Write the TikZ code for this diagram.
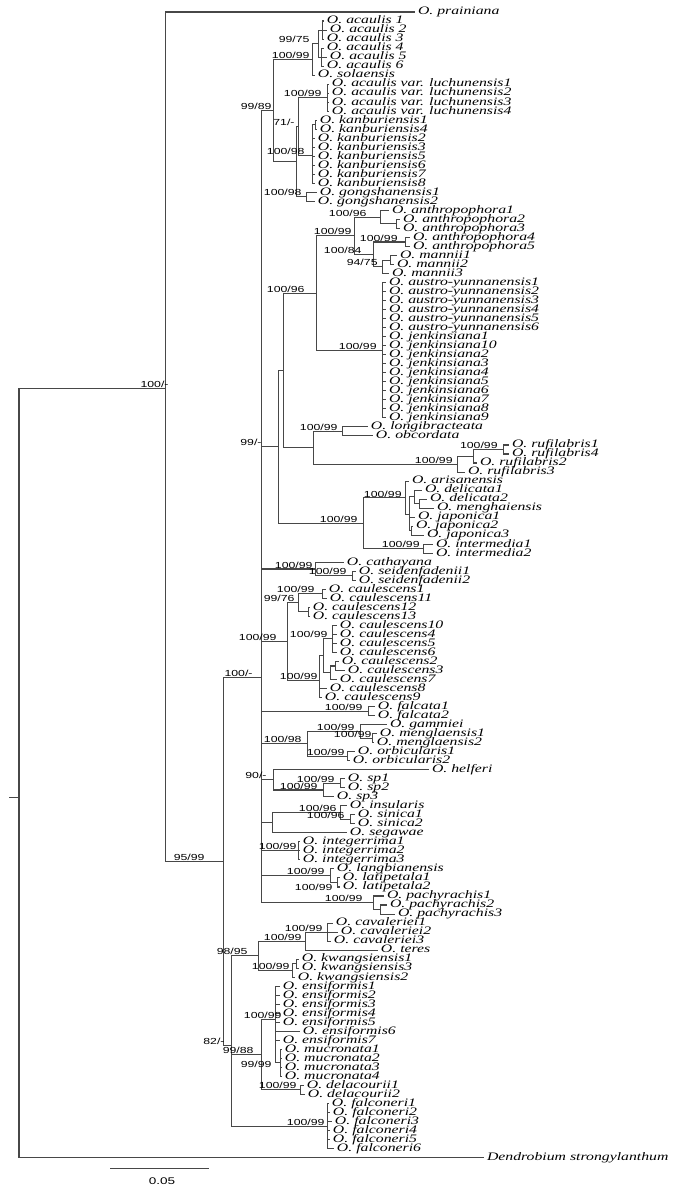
\documentclass[tikz,border=0pt]{standalone}
\usepackage{fontspec}
\setmainfont{Liberation Serif}
\newfontfamily\lsans{Liberation Sans}

\begin{document}
\begin{tikzpicture}[x=0.02cm,y=-0.1804cm,
  twig/.style={draw=black!72,line width=0.6pt},
  taxon/.style={anchor=west,inner xsep=1pt,inner ysep=0pt,text height=4.5pt,text depth=1.3pt,xscale=1.38,font=\fontsize{6.5}{7}\selectfont\itshape},
  bs/.style={anchor=south east,inner sep=0pt,yshift=0.3pt,xscale=1.4,font=\lsans\fontsize{5}{6}\selectfont}]
  \useasboundingbox (0,-0.33) rectangle (675,131.15);
  \coordinate (root) at (19,88.045); \coordinate (stub) at (9,88.045);
  \coordinate (nA) at (165,42.69); \coordinate (n95) at (223,95.19);
  \coordinate (n100b) at (261,74.80); \coordinate (n82) at (231,115.57);
  \coordinate (n9989) at (273,11.93); \coordinate (n100a) at (312,6.25);
  \coordinate (n9975) at (318,4.5); \coordinate (nac13) at (322,3); \coordinate (nac46) at (321,6);
  \coordinate (nY) at (296,17.61); \coordinate (n71) at (298,13.71);
  \coordinate (nluch) at (327,10.5); \coordinate (nkanb) at (312,16.93);
  \coordinate (nk14) at (315,13.5); \coordinate (ngong) at (306,21.5);
  \coordinate (n99m) at (278,49.21); \coordinate (nB) at (283,40.74);
  \coordinate (n10096) at (316,32.16); \coordinate (nanth) at (354,25.81);
  \coordinate (n10096b) at (380,23.75); \coordinate (nanth23) at (396,24.5);
  \coordinate (n10084) at (373,27.875); \coordinate (nanth45) at (405,26.5);
  \coordinate (n9475) at (382,29.25); \coordinate (nm12) at (390,28.5);
  \coordinate (naj) at (382,38.5); \coordinate (nlr) at (313,49.31);
  \coordinate (nlo) at (342,47.5); \coordinate (nruf) at (457,51.125);
  \coordinate (nruf142) at (473,50.25); \coordinate (nruf14) at (503,49.5);
  \coordinate (narisc) at (363,57.69); \coordinate (nar) at (405,54.875);
  \coordinate (nx) at (409,56.75); \coordinate (ndel) at (414,54.75);
  \coordinate (ndm) at (419,55.5); \coordinate (njap23) at (411,58.5);
  \coordinate (ninter) at (423,60.5);
  \coordinate (ncath) at (315,62.75); \coordinate (nseid) at (352,63.5);
  \coordinate (ncaul) at (287,70.81); \coordinate (n9976) at (298,66.5);
  \coordinate (nc111) at (322,65.5); \coordinate (nc1213) at (308,67.5);
  \coordinate (ncaulB) at (319,75.125); \coordinate (nc1) at (323,72.375);
  \coordinate (nc106) at (332,70.5); \coordinate (nc237) at (330,74.25);
  \coordinate (nc23) at (335,73.5);
  \coordinate (nfalc) at (368,78.5);
  \coordinate (n10098) at (307,82.125); \coordinate (ngm) at (360,80.75);
  \coordinate (nmengl) at (372,81.5); \coordinate (norb) at (347,83.5);
  \coordinate (n90) at (273,86.125); \coordinate (nsp) at (323,87.25);
  \coordinate (nsp12) at (340,86.5);
  \coordinate (ninsu) at (272,90.875); \coordinate (n10096c) at (340,89.75);
  \coordinate (nsin) at (350,90.5);
  \coordinate (ninteg) at (298,94);
  \coordinate (nlang) at (330,96.75); \coordinate (nlat) at (337,97.5);
  \coordinate (npachy) at (373,99.75); \coordinate (npach23) at (380,100.5);
  \coordinate (n9895) at (258,105.625); \coordinate (ncav) at (305,104);
  \coordinate (ncav123) at (327,103); \coordinate (nkwang) at (292,107.25);
  \coordinate (nk13) at (296,106.5);
  \coordinate (n9988) at (261,116.59); \coordinate (nX) at (275,112.69);
  \coordinate (nmuc) at (280,117.5); \coordinate (ndelac) at (300,120.5);
  \coordinate (nfalco) at (327,124.5);

  \foreach \x/\t [count=\i] in {415/O. prainiana,
    324/O. acaulis 1,327/O. acaulis 2,324/O. acaulis 3,324/O. acaulis 4,327/O. acaulis 5,324/O. acaulis 6,315/O. solaensis,
    329/O. acaulis var. luchunensis1,329/O. acaulis var. luchunensis2,329/O. acaulis var. luchunensis3,329/O. acaulis var. luchunensis4,
    317/O. kanburiensis1,317/O. kanburiensis4,315/O. kanburiensis2,315/O. kanburiensis3,315/O. kanburiensis5,315/O. kanburiensis6,315/O. kanburiensis7,315/O. kanburiensis8,
    317/O. gongshanensis1,315/O. gongshanensis2,
    389/O. anthropophora1,400/O. anthropophora2,400/O. anthropophora3,410/O. anthropophora4,410/O. anthropophora5,
    397/O. mannii1,394/O. mannii2,389/O. mannii3,
    386/O. austro-yunnanensis1,386/O. austro-yunnanensis2,386/O. austro-yunnanensis3,386/O. austro-yunnanensis4,386/O. austro-yunnanensis5,386/O. austro-yunnanensis6,
    386/O. jenkinsiana1,386/O. jenkinsiana10,386/O. jenkinsiana2,386/O. jenkinsiana3,386/O. jenkinsiana4,386/O. jenkinsiana5,386/O. jenkinsiana6,386/O. jenkinsiana7,386/O. jenkinsiana8,386/O. jenkinsiana9,
    368/O. longibracteata,373/O. obcordata,
    509/O. rufilabris1,509/O. rufilabris4,477/O. rufilabris2,465/O. rufilabris3,
    409/O. arisanensis,422/O. delicata1,427/O. delicata2,434/O. menghaiensis,415/O. japonica1,413/O. japonica2,424/O. japonica3,
    433/O. intermedia1,433/O. intermedia2,
    344/O. cathayana,356/O. seidenfadenii1,356/O. seidenfadenii2,
    326/O. caulescens1,327/O. caulescens11,310/O. caulescens12,310/O. caulescens13,
    337/O. caulescens10,337/O. caulescens4,337/O. caulescens5,337/O. caulescens6,
    339/O. caulescens2,345/O. caulescens3,337/O. caulescens7,327/O. caulescens8,322/O. caulescens9,
    375/O. falcata1,375/O. falcata2,
    387/O. gammiei,377/O. menglaensis1,374/O. menglaensis2,355/O. orbicularis1,350/O. orbicularis2,
    429/O. helferi,345/O. sp1,345/O. sp2,334/O. sp3,
    347/O. insularis,355/O. sinica1,355/O. sinica2,347/O. segawae,
    300/O. integerrima1,300/O. integerrima2,300/O. integerrima3,
    334/O. langbianensis,340/O. latipetala1,340/O. latipetala2,
    384/O. pachyrachis1,387/O. pachyrachis2,395/O. pachyrachis3,
    333/O. cavaleriei1,338/O. cavaleriei2,331/O. cavaleriei3,378/O. teres,
    299/O. kwangsiensis1,299/O. kwangsiensis3,295/O. kwangsiensis2,
    280/O. ensiformis1,280/O. ensiformis2,280/O. ensiformis3,280/O. ensiformis4,280/O. ensiformis5,300/O. ensiformis6,280/O. ensiformis7,
    282/O. mucronata1,282/O. mucronata2,282/O. mucronata3,282/O. mucronata4,
    304/O. delacourii1,305/O. delacourii2,
    329/O. falconeri1,330/O. falconeri2,332/O. falconeri3,330/O. falconeri4,330/O. falconeri5,334/O. falconeri6,
    484/Dendrobium strongylanthum}
    \node[taxon] (l\i) at (\x,\i) {\t};

  \draw[twig] (stub) -- (root);
  \draw[twig] (root) |- (nA); \draw[twig] (root) |- (l128.west);
  \draw[twig] (nA) |- (l1.west); \draw[twig] (nA) |- (n95);
  \draw[twig] (n95) |- (n100b); \draw[twig] (n95) |- (n82);
  \foreach \c in {n9989,n99m,ncath,ncaul,nfalc,n10098,n90,ninsu,ninteg,nlang,npachy}
    \draw[twig] (n100b) |- (\c);
  \draw[twig] (n9989) |- (n100a); \draw[twig] (n9989) |- (nY);
  \draw[twig] (n100a) |- (n9975); \draw[twig] (n100a) |- (l8.west);
  \draw[twig] (n9975) |- (nac13); \draw[twig] (n9975) |- (nac46);
  \foreach \k in {2,3,4} \draw[twig] (nac13) |- (l\k.west);
  \foreach \k in {5,6,7} \draw[twig] (nac46) |- (l\k.west);
  \draw[twig] (nY) |- (n71); \draw[twig] (nY) |- (ngong);
  \draw[twig] (n71) |- (nluch); \draw[twig] (n71) |- (nkanb);
  \foreach \k in {9,...,12} \draw[twig] (nluch) |- (l\k.west);
  \draw[twig] (nkanb) |- (nk14);
  \foreach \k in {15,...,20} \draw[twig] (nkanb) |- (l\k.west);
  \foreach \k in {13,14} \draw[twig] (nk14) |- (l\k.west);
  \foreach \k in {21,22} \draw[twig] (ngong) |- (l\k.west);
  \draw[twig] (n99m) |- (nB); \draw[twig] (n99m) |- (narisc);
  \draw[twig] (nB) |- (n10096); \draw[twig] (nB) |- (nlr);
  \draw[twig] (n10096) |- (nanth); \draw[twig] (n10096) |- (naj);
  \draw[twig] (nanth) |- (n10096b); \draw[twig] (nanth) |- (n10084);
  \draw[twig] (n10096b) |- (l23.west); \draw[twig] (n10096b) |- (nanth23);
  \foreach \k in {24,25} \draw[twig] (nanth23) |- (l\k.west);
  \draw[twig] (n10084) |- (nanth45); \draw[twig] (n10084) |- (n9475);
  \foreach \k in {26,27} \draw[twig] (nanth45) |- (l\k.west);
  \draw[twig] (n9475) |- (nm12); \draw[twig] (n9475) |- (l30.west);
  \foreach \k in {28,29} \draw[twig] (nm12) |- (l\k.west);
  \foreach \k in {31,...,46} \draw[twig] (naj) |- (l\k.west);
  \draw[twig] (nlr) |- (nlo); \draw[twig] (nlr) |- (nruf);
  \foreach \k in {47,48} \draw[twig] (nlo) |- (l\k.west);
  \draw[twig] (nruf) |- (nruf142); \draw[twig] (nruf) |- (l52.west);
  \draw[twig] (nruf142) |- (nruf14); \draw[twig] (nruf142) |- (l51.west);
  \foreach \k in {49,50} \draw[twig] (nruf14) |- (l\k.west);
  \draw[twig] (narisc) |- (nar); \draw[twig] (narisc) |- (ninter);
  \draw[twig] (nar) |- (l53.west); \draw[twig] (nar) |- (nx);
  \draw[twig] (nx) |- (ndel); \draw[twig] (nx) |- (l57.west); \draw[twig] (nx) |- (njap23);
  \draw[twig] (ndel) |- (l54.west); \draw[twig] (ndel) |- (ndm);
  \foreach \k in {55,56} \draw[twig] (ndm) |- (l\k.west);
  \foreach \k in {58,59} \draw[twig] (njap23) |- (l\k.west);
  \foreach \k in {60,61} \draw[twig] (ninter) |- (l\k.west);
  \draw[twig] (ncath) |- (l62.west); \draw[twig] (ncath) |- (nseid);
  \foreach \k in {63,64} \draw[twig] (nseid) |- (l\k.west);
  \draw[twig] (ncaul) |- (n9976); \draw[twig] (ncaul) |- (ncaulB);
  \draw[twig] (n9976) |- (nc111); \draw[twig] (n9976) |- (nc1213);
  \foreach \k in {65,66} \draw[twig] (nc111) |- (l\k.west);
  \foreach \k in {67,68} \draw[twig] (nc1213) |- (l\k.west);
  \draw[twig] (ncaulB) |- (nc1); \draw[twig] (ncaulB) |- (l76.west); \draw[twig] (ncaulB) |- (l77.west);
  \draw[twig] (nc1) |- (nc106); \draw[twig] (nc1) |- (nc237);
  \foreach \k in {69,...,72} \draw[twig] (nc106) |- (l\k.west);
  \draw[twig] (nc237) |- (nc23); \draw[twig] (nc237) |- (l75.west);
  \foreach \k in {73,74} \draw[twig] (nc23) |- (l\k.west);
  \foreach \k in {78,79} \draw[twig] (nfalc) |- (l\k.west);
  \draw[twig] (n10098) |- (ngm); \draw[twig] (n10098) |- (norb);
  \draw[twig] (ngm) |- (l80.west); \draw[twig] (ngm) |- (nmengl);
  \foreach \k in {81,82} \draw[twig] (nmengl) |- (l\k.west);
  \foreach \k in {83,84} \draw[twig] (norb) |- (l\k.west);
  \draw[twig] (n90) |- (l85.west); \draw[twig] (n90) |- (nsp);
  \draw[twig] (nsp) |- (nsp12); \draw[twig] (nsp) |- (l88.west);
  \foreach \k in {86,87} \draw[twig] (nsp12) |- (l\k.west);
  \draw[twig] (ninsu) |- (n10096c); \draw[twig] (ninsu) |- (l92.west);
  \draw[twig] (n10096c) |- (l89.west); \draw[twig] (n10096c) |- (nsin);
  \foreach \k in {90,91} \draw[twig] (nsin) |- (l\k.west);
  \foreach \k in {93,94,95} \draw[twig] (ninteg) |- (l\k.west);
  \draw[twig] (nlang) |- (l96.west); \draw[twig] (nlang) |- (nlat);
  \foreach \k in {97,98} \draw[twig] (nlat) |- (l\k.west);
  \draw[twig] (npachy) |- (l99.west); \draw[twig] (npachy) |- (npach23);
  \foreach \k in {100,101} \draw[twig] (npach23) |- (l\k.west);
  \draw[twig] (n82) |- (n9895); \draw[twig] (n82) |- (n9988); \draw[twig] (n82) |- (nfalco);
  \draw[twig] (n9895) |- (ncav); \draw[twig] (n9895) |- (nkwang);
  \draw[twig] (ncav) |- (ncav123); \draw[twig] (ncav) |- (l105.west);
  \foreach \k in {102,103,104} \draw[twig] (ncav123) |- (l\k.west);
  \draw[twig] (nkwang) |- (nk13); \draw[twig] (nkwang) |- (l108.west);
  \foreach \k in {106,107} \draw[twig] (nk13) |- (l\k.west);
  \draw[twig] (n9988) |- (nX); \draw[twig] (n9988) |- (ndelac);
  \foreach \k in {109,...,115} \draw[twig] (nX) |- (l\k.west);
  \draw[twig] (nX) |- (nmuc);
  \foreach \k in {116,...,119} \draw[twig] (nmuc) |- (l\k.west);
  \foreach \k in {120,121} \draw[twig] (ndelac) |- (l\k.west);
  \foreach \k in {122,...,127} \draw[twig] (nfalco) |- (l\k.west);

  \node[bs] (bA) at ([shift={(4,0)}]nA) {100/-};
  \node[bs] (b95) at ([shift={(-18,0)}]n95) {95/99};
  \node[bs] (b100b) at ([shift={(-8,0)}]n100b) {100/-};
  \node[bs] (b82) at ([shift={(-6,0)}]n82) {82/-};
  \node[bs] (b9989) at ([shift={(-1,0)}]n9989) {99/89};
  \node[bs] (b100a) at ([shift={(-2,0)}]n100a) {100/99};
  \node[bs] (b9975) at ([shift={(-8,0)}]n9975) {99/75};
  \node[bs] (bluch) at ([shift={(-5,0)}]nluch) {100/99};
  \node[bs] (b71) at ([shift={(-3,0)}]n71) {71/-};
  \node[bs] (bkanb) at ([shift={(-7,0)}]nkanb) {100/98};
  \node[bs] (bgong) at ([shift={(-4,0)}]ngong) {100/98};
  \node[bs] (b99m) at ([shift={(-16,0)}]n99m) {99/-};
  \node[bs] (b10096) at ([shift={(-11,0)}]n10096) {100/96};
  \node[bs] (banth) at ([shift={(-2,0)}]nanth) {100/99};
  \node[bs] (b10096b) at ([shift={(-13,0)}]n10096b) {100/96};
  \node[bs] (b10084) at ([shift={(-11,0)}]n10084) {100/84};
  \node[bs] (banth45) at ([shift={(-7,0)}]nanth45) {100/99};
  \node[bs] (b9475) at ([shift={(-4,0)}]n9475) {94/75};
  \node[bs] (baj) at ([shift={(-5,0)}]naj) {100/99};
  \node[bs] (blo) at ([shift={(-4,0)}]nlo) {100/99};
  \node[bs] (bruf14) at ([shift={(-5,0)}]nruf14) {100/99};
  \node[bs] (bruf) at ([shift={(-4,0)}]nruf) {100/99};
  \node[bs] (barisc) at ([shift={(-5,0)}]narisc) {100/99};
  \node[bs] (bar) at ([shift={(-3,0)}]nar) {100/99};
  \node[bs] (binter) at ([shift={(-3,0)}]ninter) {100/99};
  \node[bs] (bcath) at ([shift={(-2,0)}]ncath) {100/99};
  \node[bs] (bseid) at ([shift={(-5,0)}]nseid) {100/99};
  \node[bs] (bcaul) at ([shift={(-10,0)}]ncaul) {100/99};
  \node[bs] (b9976) at ([shift={(-3,0)}]n9976) {99/76};
  \node[bs] (bc111) at ([shift={(-7,0)}]nc111) {100/99};
  \node[bs] (bcaulB) at ([shift={(-1,0)}]ncaulB) {100/99};
  \node[bs] (bc106) at ([shift={(-4,0)}]nc106) {100/99};
  \node[bs] (bfalc) at ([shift={(-5,0)}]nfalc) {100/99};
  \node[bs] (b10098) at ([shift={(-5,0)}]n10098) {100/98};
  \node[bs] (bgm) at ([shift={(-5,0)}]ngm) {100/99};
  \node[bs] (bmengl) at ([shift={(0,0)}]nmengl) {100/99};
  \node[bs] (borb) at ([shift={(-2,0)}]norb) {100/99};
  \node[bs] (b90) at ([shift={(-6,0)}]n90) {90/-};
  \node[bs] (bsp) at ([shift={(-5,0)}]nsp) {100/99};
  \node[bs] (bsp12) at ([shift={(-5,0)}]nsp12) {100/99};
  \node[bs] (b10096c) at ([shift={(-3,0)}]n10096c) {100/96};
  \node[bs] (bsin) at ([shift={(-5,0)}]nsin) {100/96};
  \node[bs] (binteg) at ([shift={(-1,0)}]ninteg) {100/99};
  \node[bs] (blang) at ([shift={(-5,0)}]nlang) {100/99};
  \node[bs,anchor=north east] (blat) at ([shift={(-4,0.25)}]nlat) {100/99};
  \node[bs] (bpachy) at ([shift={(-10,0)}]npachy) {100/99};
  \node[bs] (b9895) at ([shift={(-10,0)}]n9895) {98/95};
  \node[bs] (bcav) at ([shift={(-3,0)}]ncav) {100/99};
  \node[bs] (bcav123) at ([shift={(-4,0)}]ncav123) {100/99};
  \node[bs] (bkwang) at ([shift={(-2,0)}]nkwang) {100/99};
  \node[bs] (b9988) at ([shift={(-7,0)}]n9988) {99/88};
  \node[bs] (bX) at ([shift={(7,0)}]nX) {100/99};
  \node[bs,anchor=east] (bmuc) at ([shift={(-8,0.2)}]nmuc) {99/99};
  \node[bs] (bdelac) at ([shift={(-3,0)}]ndelac) {100/99};
  \node[bs] (bfalco) at ([shift={(-2,0)}]nfalco) {100/99};

  \coordinate (sbl) at (110,129.16); \coordinate (sbr) at (209,129.16);
  \draw[twig] (sbl) -- (sbr);
  \node[inner sep=0pt,xscale=1.4,font=\lsans\fontsize{5.5}{6}\selectfont] (sbt) at (162,130.6) {0.05};
\end{tikzpicture}
\end{document}
